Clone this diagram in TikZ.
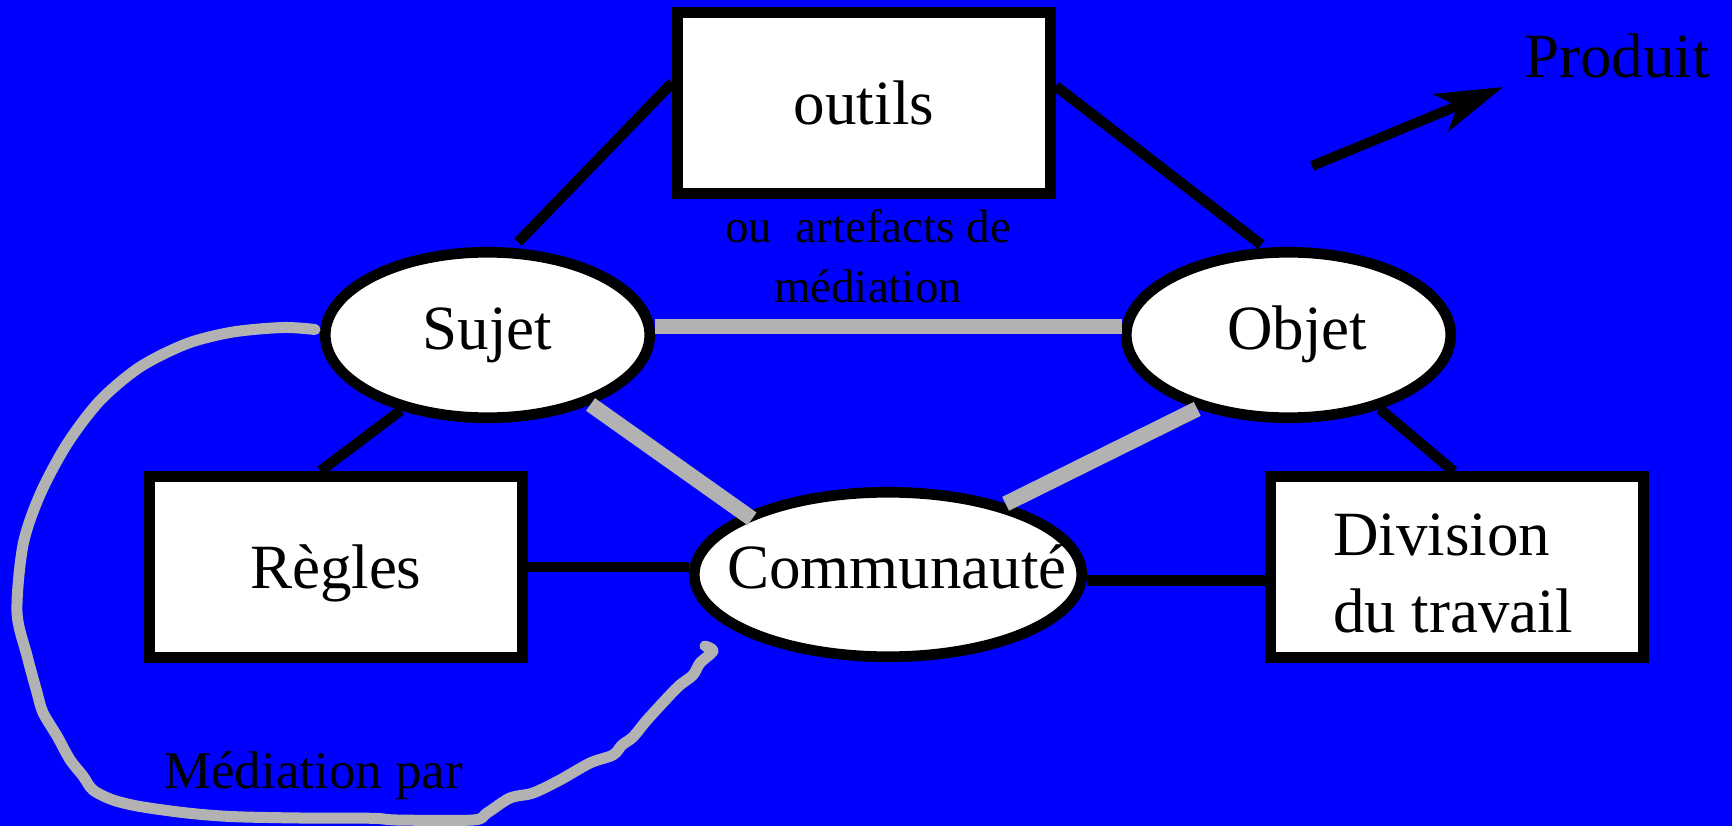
\documentclass[tikz,border=0pt]{standalone}
\usepackage{fontspec}
\setmainfont{Liberation Serif}
\usetikzlibrary{arrows.meta,shapes.geometric,calc}
\definecolor{bgblue}{RGB}{0,0,255}
\definecolor{linegray}{RGB}{178,178,178}
\pgfdeclarelayer{background}
\pgfsetlayers{background,main}
\begin{document}
\begin{tikzpicture}[x=1pt,y=-1pt,
  boxnode/.style={draw=black,fill=white,line width=10.7pt,rectangle,minimum width=373pt,minimum height=181pt,inner sep=0pt,font=\fontsize{63}{77}\selectfont,text height=44pt,text depth=0pt},
  ellnode/.style={draw=black,fill=white,line width=10.7pt,ellipse,inner sep=0pt,font=\fontsize{63}{77}\selectfont,text height=44pt,text depth=16pt},
  blackline/.style={draw=black,line width=10.5pt},
  hline/.style={draw=black,line width=10.5pt},
  grayline/.style={draw=linegray,line width=15.5pt},
  lbl/.style={inner sep=0pt,text=black},
  medcurve/.style={draw=linegray,line width=11pt,line cap=round,line join=round}
]
\useasboundingbox (0,0) rectangle (1732,826);
\begin{pgfonlayer}{background}
\fill[bgblue] (0,0) rectangle (1732,826);
\end{pgfonlayer}

% nodes
\node[boxnode] (outils) at (864,103) {outils};
\node[boxnode] (regles) at (335.75,566.75) {Règles};
\node[boxnode] (division) at (1457,567.2) {};
\node[lbl,anchor=north west,align=left,font=\fontsize{63}{77}\selectfont] (divtext) at (1333,513.5) {Division\\du travail};
\node[ellnode,minimum width=324.5pt,minimum height=165.5pt] (sujet) at (487.5,335) {\makebox[0pt]{Sujet}};
\node[ellnode,minimum width=324.5pt,minimum height=165.5pt] (objet) at (1288.5,335) {\makebox[0pt]{\kern17pt Objet}};
\node[ellnode,minimum width=387.5pt,minimum height=164.5pt] (comm) at (888,574.5) {\makebox[0pt]{\kern18pt Communauté}};

% black connectors (under the nodes)
\begin{pgfonlayer}{background}
\draw[blackline,shorten <=8pt] (sujet.74) -- (outils.174);
\draw[blackline,shorten >=5pt] (outils.5) -- (objet.105);
\draw[blackline] (sujet.221) -- (regles.99);
\draw[blackline] (objet.321) -- (division.92);
\draw[hline] (regles.east) -- (regles.east -| comm.west);
\draw[hline] (division.184 -| comm.east) -- (division.184);
\end{pgfonlayer}

% gray connectors
\draw[grayline] (objet.177 -| sujet.east) -- (objet.177);
\draw[grayline,shorten >=-9pt] (sujet.326) -- (comm.157);
\draw[grayline] (objet.219) -- (comm.31);

% mediation curve
\draw[medcurve] plot[smooth,tension=0.5] coordinates {(315,329.5) (283,327.5) (233,332) (187,343.6) (140,367) (100,400.6) (67,444) (40,494.6) (23,545) (17,612) (27,655.6) (37,692.5) (43,712.6) (57,736) (70,759.6) (83,776) (93,790) (113,800) (140,806.5) (187,813) (233,816.6) (300,818) (373,818.3) (397,820) (473,820) (487,813) (510,798) (533,793) (560,780) (590,763) (613,755) (622,745) (633,737) (647,720) (670,695) (680,685) (693,675) (700,663) (713,651) (705,646)};

% arrow to Produit
\coordinate (arrS) at (1312,166);
\coordinate (arrE) at (1503,87);
\draw[line width=10pt,-{Stealth[length=67pt,width=40pt,inset=18pt]}] (arrS) -- (arrE);

% labels
\node[lbl,anchor=base west,font=\fontsize{63}{77}\selectfont] (produit) at (1524,78) {Produit};
\node[lbl,anchor=north,align=center,font=\fontsize{47}{60}\selectfont] (artef) at (868,209) {ou\ \ artefacts de\\médiation};
\node[lbl,anchor=base west,font=\fontsize{53}{64}\selectfont] (medpar) at (164,788) {Médiation par};
\end{tikzpicture}
\end{document}
